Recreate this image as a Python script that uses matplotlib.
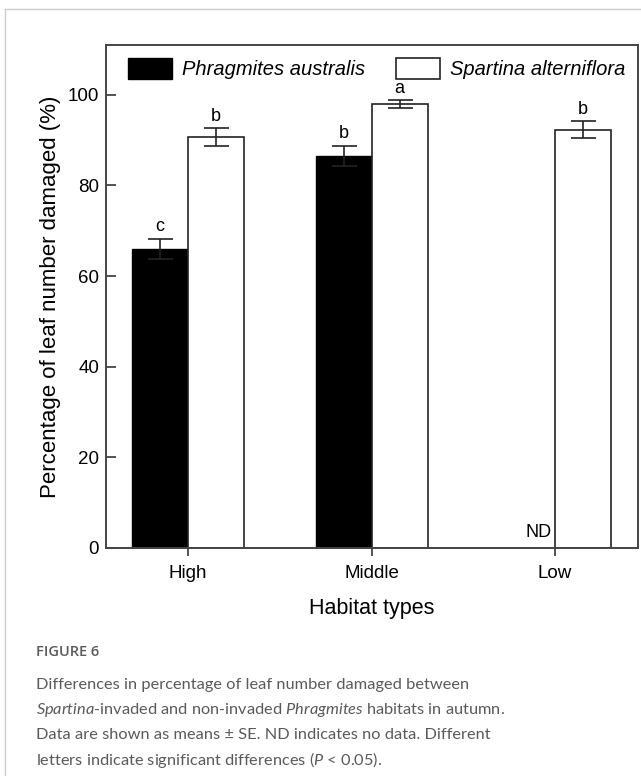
import matplotlib.pyplot as plt
import numpy as np
from matplotlib.lines import Line2D

# Data
habitats = ["High", "Middle", "Low"]
phrag_mean = [66.0, 86.5, np.nan]
phrag_se = [2.2, 2.2, np.nan]
spart_mean = [90.7, 98.0, 92.3]
spart_se = [1.9, 0.8, 1.9]
phrag_letters = ["c", "b", "ND"]
spart_letters = ["b", "a", "b"]

plt.rcParams["font.family"] = ["Liberation Sans", "DejaVu Sans"]
plt.rcParams["mathtext.fontset"] = "custom"
plt.rcParams["mathtext.it"] = "Lato:italic"
plt.rcParams["mathtext.rm"] = "Lato"

fig = plt.figure(figsize=(6.41, 7.76), dpi=100)
W, H = 641, 776
ax = fig.add_axes([106 / W, 1 - 548 / H, (638 - 106) / W, (548 - 45) / H])

x = np.arange(len(habitats))
w = 0.305
ekw = dict(ecolor="#222222", elinewidth=1.2, capsize=9, capthick=1.2)
ax.bar(x - w / 2, phrag_mean, w, color="black", edgecolor="black",
       linewidth=1, label="Phragmites australis")
ax.errorbar(x - w / 2, phrag_mean, yerr=phrag_se, fmt="none", **ekw)
ax.bar(x + w / 2, spart_mean, w, color="white", edgecolor="#222222",
       linewidth=1.2, label="Spartina alterniflora")
ax.errorbar(x + w / 2, spart_mean, yerr=spart_se, fmt="none", **ekw)

# significance letters
for i in range(len(habitats)):
    if np.isnan(phrag_mean[i]):
        ax.text(x[i] - 0.02, 1.5, phrag_letters[i], ha="right", va="bottom", fontsize=13)
    else:
        ax.text(x[i] - w / 2, phrag_mean[i] + phrag_se[i] + 0.8, phrag_letters[i],
                ha="center", va="bottom", fontsize=13)
    ax.text(x[i] + w / 2, spart_mean[i] + spart_se[i] + 0.8, spart_letters[i],
            ha="center", va="bottom", fontsize=13)

ax.set_xlim(-0.447, 2.452)
ax.set_ylim(0, 111)
ax.set_yticks([0, 20, 40, 60, 80, 100])
ax.set_xticks(x)
ax.set_xticklabels(habitats)
ax.tick_params(axis="y", direction="in", length=7, width=1.2, labelsize=13.5, pad=5, color="#333333")
ax.tick_params(axis="x", direction="out", length=6, width=1.2, labelsize=13.5, pad=6, color="#333333")
for s in ax.spines.values():
    s.set_linewidth(1.4)
    s.set_color("#444444")

ax.set_ylabel("Percentage of leaf number damaged (%)", fontsize=16, labelpad=5)
ax.set_xlabel("Habitat types", fontsize=15.5, labelpad=12)

leg = ax.legend(loc="upper left", bbox_to_anchor=((128 - 106) / 532, (548 - 58) / 503),
                ncol=2, frameon=False, borderaxespad=0, borderpad=0,
                prop={"style": "italic", "size": 14.5}, handlelength=2.2, handleheight=1.2,
                columnspacing=1.5, handletextpad=0.5)

# outer frame
fig.add_artist(Line2D([5 / W, 5 / W], [0, 1 - 9 / H], color="#cccccc", lw=1))
fig.add_artist(Line2D([5 / W, 1], [1 - 9 / H, 1 - 9 / H], color="#cccccc", lw=1))

# caption
cap_color = "#5a5a5a"
fig.text(36 / W, 1 - 652 / H, "FIGURE 6", fontsize=10.5, color=cap_color,
         family="Open Sans", weight="semibold", va="center")
lines = [
    "Differences in percentage of leaf number damaged between",
    r"$\it{Spartina}$-invaded and non-invaded $\it{Phragmites}$ habitats in autumn.",
    "Data are shown as means \u00b1 SE. ND indicates no data. Different",
    r"letters indicate significant differences ($\it{P}$ < 0.05).",
]
for k, t in enumerate(lines):
    fig.text(36 / W, 1 - (685 + 25 * k) / H, t, fontsize=11.8, color=cap_color,
             family="Lato", va="center")

fig.savefig("out.png", dpi=100)
